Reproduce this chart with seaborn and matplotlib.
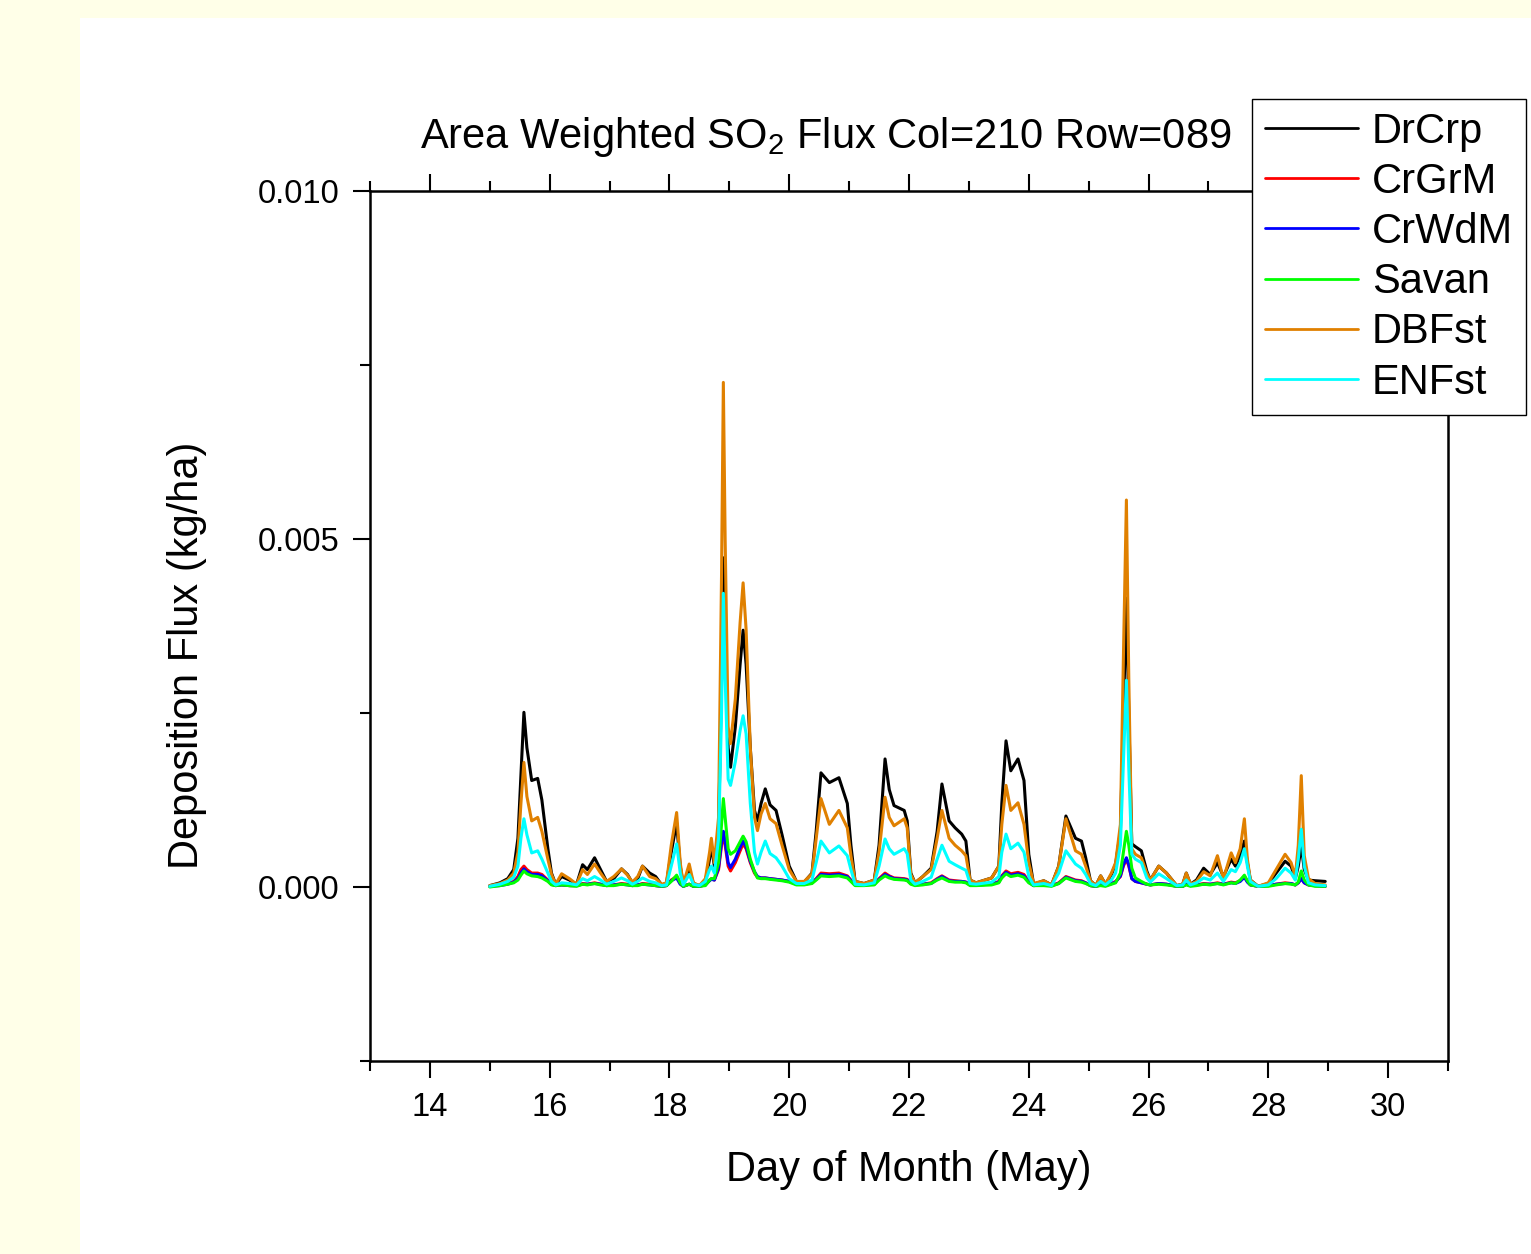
import numpy as np
import pandas as pd
import matplotlib
matplotlib.use("Agg")
import matplotlib.pyplot as plt
from matplotlib.patches import Rectangle
from matplotlib.ticker import MultipleLocator, FormatStrFormatter
import seaborn as sns

# Time axis: day of month (May), fractional days
day = [15.00, 15.17, 15.30, 15.40, 15.47, 15.52, 15.57, 15.62, 15.70, 15.80,
       15.87, 15.97, 16.03, 16.10, 16.20, 16.33, 16.45, 16.55, 16.63, 16.75,
       16.85, 16.95, 17.07, 17.20, 17.30, 17.38, 17.47, 17.55, 17.67, 17.77,
       17.87, 17.95, 18.03, 18.12, 18.18, 18.23, 18.33, 18.40, 18.50, 18.60,
       18.67, 18.70, 18.75, 18.82, 18.87, 18.90, 18.93, 18.98, 19.02, 19.10,
       19.18, 19.23, 19.28, 19.35, 19.42, 19.47, 19.53, 19.60, 19.68, 19.78,
       19.88, 20.00, 20.12, 20.25, 20.38, 20.45, 20.53, 20.67, 20.83, 20.97,
       21.03, 21.10, 21.25, 21.42, 21.50, 21.60, 21.67, 21.75, 21.92, 21.97,
       22.03, 22.10, 22.23, 22.37, 22.47, 22.55, 22.67, 22.77, 22.88, 22.95,
       23.02, 23.12, 23.38, 23.50, 23.55, 23.62, 23.70, 23.82, 23.92, 24.00,
       24.08, 24.25, 24.38, 24.50, 24.62, 24.78, 24.88, 24.95, 25.03, 25.12,
       25.20, 25.28, 25.38, 25.45, 25.53, 25.58, 25.63, 25.67, 25.72, 25.78,
       25.88, 25.97, 26.03, 26.17, 26.30, 26.47, 26.57, 26.63, 26.70, 26.80,
       26.92, 27.03, 27.15, 27.25, 27.38, 27.45, 27.53, 27.60, 27.65, 27.70,
       27.83, 28.00, 28.13, 28.28, 28.38, 28.45, 28.50, 28.55, 28.60, 28.67,
       28.78, 28.95]

# Deposition flux per land cover, in units of 1e-5 kg/ha
drcrp = [2, 6, 12, 25, 70, 160, 251, 200, 153, 156,
         125, 55, 20, 4, 15, 10, 4, 32, 25, 42,
         25, 8, 12, 26, 18, 6, 12, 30, 20, 15,
         3, 5, 50, 92, 30, 4, 25, 5, 2, 8,
         40, 60, 30, 80, 300, 473, 350, 200, 172, 230,
         320, 369, 320, 200, 110, 95, 120, 141, 118, 110,
         75, 30, 8, 7, 20, 80, 164, 150, 157, 120,
         60, 8, 5, 10, 60, 184, 140, 117, 110, 95,
         20, 6, 15, 27, 80, 148, 95, 85, 76, 66,
         10, 6, 13, 30, 120, 210, 167, 184, 153, 47,
         4, 9, 3, 30, 102, 70, 66, 42, 9, 2,
         16, 4, 18, 33, 80, 250, 415, 250, 62, 58,
         52, 23, 10, 30, 20, 2, 4, 20, 4, 10,
         27, 18, 35, 15, 40, 30, 45, 66, 35, 10,
         1, 5, 20, 37, 30, 12, 30, 60, 25, 10,
         9, 8]

crgrm = [1, 3, 5, 8, 15, 25, 30, 25, 20, 20,
         18, 10, 4, 2, 3, 2, 2, 5, 4, 6,
         4, 2, 3, 5, 4, 2, 3, 5, 4, 2,
         1, 2, 10, 15, 5, 1, 4, 1, 1, 3,
         10, 12, 10, 25, 60, 78, 60, 30, 23, 35,
         52, 62, 55, 35, 20, 14, 13, 13, 12, 11,
         10, 8, 4, 4, 6, 12, 20, 19, 20, 16,
         10, 4, 3, 4, 12, 20, 16, 13, 12, 11,
         5, 3, 4, 6, 12, 16, 10, 9, 8, 7,
         3, 3, 4, 8, 16, 23, 19, 21, 18, 8,
         2, 3, 2, 6, 15, 10, 9, 6, 2, 1,
         3, 2, 5, 8, 15, 30, 40, 30, 12, 8,
         6, 4, 3, 5, 4, 1, 1, 4, 2, 3,
         5, 4, 6, 4, 7, 6, 9, 15, 8, 3,
         1, 2, 4, 6, 5, 3, 6, 12, 6, 3,
         2, 1]

crwdm = [1, 2, 4, 7, 12, 20, 26, 22, 18, 18,
         16, 9, 4, 2, 3, 2, 2, 4, 4, 5,
         4, 2, 3, 4, 3, 2, 3, 4, 3, 2,
         1, 2, 9, 13, 4, 1, 4, 1, 1, 3,
         9, 11, 10, 28, 65, 80, 65, 35, 28, 40,
         57, 66, 58, 37, 22, 15, 13, 13, 12, 11,
         10, 8, 4, 4, 6, 11, 18, 17, 18, 15,
         9, 3, 3, 4, 11, 18, 15, 12, 11, 10,
         5, 3, 4, 5, 11, 15, 9, 8, 8, 7,
         3, 3, 4, 7, 15, 21, 17, 19, 16, 7,
         2, 3, 2, 5, 14, 9, 8, 6, 2, 1,
         3, 2, 5, 7, 16, 32, 42, 32, 12, 8,
         6, 4, 3, 5, 4, 1, 1, 4, 2, 3,
         4, 4, 5, 4, 6, 5, 8, 14, 7, 3,
         1, 2, 4, 5, 5, 3, 6, 12, 6, 3,
         2, 1]

savan = [0, 2, 4, 6, 10, 17, 23, 19, 16, 15,
         13, 8, 3, 2, 3, 2, 1, 4, 3, 5,
         3, 2, 2, 4, 3, 2, 2, 4, 3, 2,
         1, 2, 8, 17, 6, 1, 4, 1, 1, 2,
         10, 12, 12, 35, 90, 127, 100, 55, 47, 52,
         65, 73, 65, 40, 22, 13, 12, 12, 11, 10,
         9, 7, 3, 3, 5, 10, 16, 15, 16, 13,
         8, 2, 2, 3, 10, 16, 13, 11, 10, 9,
         4, 2, 3, 5, 10, 13, 8, 7, 7, 6,
         2, 2, 3, 6, 13, 19, 15, 17, 14, 6,
         2, 2, 1, 5, 13, 8, 7, 5, 2, 1,
         2, 1, 4, 6, 20, 50, 80, 60, 27, 13,
         8, 4, 3, 4, 3, 1, 1, 3, 1, 2,
         4, 3, 5, 3, 6, 5, 10, 17, 9, 3,
         1, 1, 3, 5, 4, 3, 7, 23, 10, 3,
         1, 1]

dbfst = [2, 5, 10, 20, 50, 120, 179, 130, 95, 100,
         80, 40, 18, 4, 19, 12, 4, 25, 18, 33,
         20, 8, 15, 26, 17, 7, 15, 30, 15, 12,
         4, 6, 60, 107, 35, 4, 33, 6, 2, 12,
         50, 70, 35, 100, 450, 725, 500, 230, 206, 270,
         380, 437, 370, 200, 100, 81, 105, 120, 98, 91,
         60, 25, 8, 8, 19, 70, 127, 90, 110, 85,
         45, 8, 5, 10, 50, 129, 100, 88, 98, 85,
         18, 6, 15, 25, 70, 110, 70, 60, 52, 45,
         10, 6, 13, 30, 90, 146, 110, 121, 90, 35,
         5, 9, 3, 30, 98, 52, 47, 30, 9, 2,
         16, 4, 20, 35, 90, 330, 556, 300, 55, 47,
         42, 20, 10, 30, 20, 2, 4, 20, 4, 8,
         22, 16, 45, 12, 49, 35, 55, 98, 40, 10,
         1, 6, 25, 47, 35, 15, 60, 160, 45, 12,
         5, 3]

enfst = [1, 4, 8, 14, 30, 70, 98, 75, 49, 52,
         40, 20, 8, 3, 6, 5, 3, 12, 9, 15,
         10, 4, 8, 13, 9, 4, 8, 13, 8, 6,
         2, 3, 30, 62, 20, 3, 18, 4, 2, 8,
         25, 30, 20, 70, 250, 422, 300, 155, 146, 180,
         225, 246, 220, 120, 50, 33, 50, 66, 48, 42,
         30, 12, 5, 5, 10, 35, 66, 49, 59, 45,
         25, 4, 3, 6, 30, 69, 55, 47, 55, 48,
         10, 4, 8, 14, 40, 60, 37, 32, 27, 24,
         5, 4, 7, 15, 50, 76, 55, 63, 50, 15,
         3, 5, 2, 20, 52, 33, 27, 18, 5, 2,
         8, 3, 10, 20, 60, 180, 297, 170, 47, 40,
         35, 13, 7, 19, 12, 2, 3, 10, 3, 6,
         13, 10, 20, 8, 25, 22, 35, 55, 30, 8,
         1, 3, 12, 27, 20, 10, 40, 83, 30, 6,
         3, 2]

FLUX_UNIT = 1e-5  # kg/ha per stored unit

cover_names = ["DrCrp", "CrGrM", "CrWdM", "Savan", "DBFst", "ENFst"]
cover_colors = ["#000000", "#FF0000", "#0000FF", "#00FF00", "#E08000", "#00FFFF"]
cover_values = [drcrp, crgrm, crwdm, savan, dbfst, enfst]

sns.set_style("ticks")
plt.rcParams["font.family"] = ["Liberation Sans", "DejaVu Sans"]
plt.rcParams["mathtext.fontset"] = "custom"
plt.rcParams["mathtext.rm"] = "Liberation Sans"
plt.rcParams["mathtext.it"] = "Liberation Sans:italic"
plt.rcParams["mathtext.bf"] = "Liberation Sans:bold"
for key in ("text.color", "axes.labelcolor", "xtick.color", "ytick.color",
            "axes.edgecolor"):
    plt.rcParams[key] = "black"

frames = []
for name, vals in zip(cover_names, cover_values):
    frames.append(pd.DataFrame({"day": day,
                                "flux": np.asarray(vals, dtype=float) * FLUX_UNIT,
                                "cover": name}))
df = pd.concat(frames, ignore_index=True)

W, H = 1531, 1254
fig = plt.figure(figsize=(W / 100, H / 100), dpi=100, facecolor="#FFFFE8")
# white slide panel
fig.add_artist(Rectangle((80 / W, 0), 1 - 80 / W, (H - 18) / H,
                         transform=fig.transFigure, facecolor="white",
                         edgecolor="none", zorder=0))

ax = fig.add_axes([370 / W, (H - 1061) / H, (1448 - 370) / W, (1061 - 191) / H])
ax.set_facecolor("white")

sns.lineplot(data=df, x="day", y="flux", hue="cover", hue_order=cover_names,
             palette=dict(zip(cover_names, cover_colors)), estimator=None,
             sort=False, linewidth=2.2, ax=ax)

ax.set_xlim(13, 31)
ax.set_ylim(-0.0025, 0.010)
ax.xaxis.set_major_locator(MultipleLocator(2))
ax.xaxis.set_minor_locator(MultipleLocator(1))
ax.yaxis.set_major_locator(MultipleLocator(0.005))
ax.yaxis.set_minor_locator(MultipleLocator(0.0025))
ax.yaxis.set_major_formatter(FormatStrFormatter("%.3f"))

ax.tick_params(axis="x", which="both", bottom=True, top=True, direction="out")
ax.tick_params(axis="y", which="both", left=True, right=False, direction="out")
ax.tick_params(which="major", length=12, width=1.5, labelsize=23.5, pad=10,
               colors="black")
ax.tick_params(which="minor", length=7, width=1.5, colors="black")
for sp in ax.spines.values():
    sp.set_linewidth(1.8)
    sp.set_color("black")

ax.set_xlabel("Day of Month (May)", fontsize=30, va="center", color="black")
ax.xaxis.set_label_coords(0.5, (1061 - 1170) / 870)
ax.set_ylabel("Deposition Flux (kg/ha)", fontsize=30, va="center", color="black")
ax.yaxis.set_label_coords((187 - 370) / 1078, (1061 - 655) / 870)

fig.text(826 / W, 1 - 148 / H, "Area Weighted SO$_2$ Flux Col=210 Row=089",
         ha="center", va="baseline", fontsize=30, color="black")

sns.move_legend(ax, "upper left", bbox_to_anchor=(1252 / W, 1 - 99 / H),
                bbox_transform=fig.transFigure, title=None, frameon=True,
                fontsize=30, handlelength=2.25, handletextpad=0.33,
                borderpad=0.3, labelspacing=0.245, borderaxespad=0,
                fancybox=False, edgecolor="black", framealpha=1)
leg = ax.get_legend()
leg.get_frame().set_linewidth(1.0)
for txt in leg.get_texts():
    txt.set_color("black")
for ln in leg.get_lines():
    ln.set_linewidth(2.0)

fig.savefig("out.png", dpi=100, facecolor=fig.get_facecolor())
